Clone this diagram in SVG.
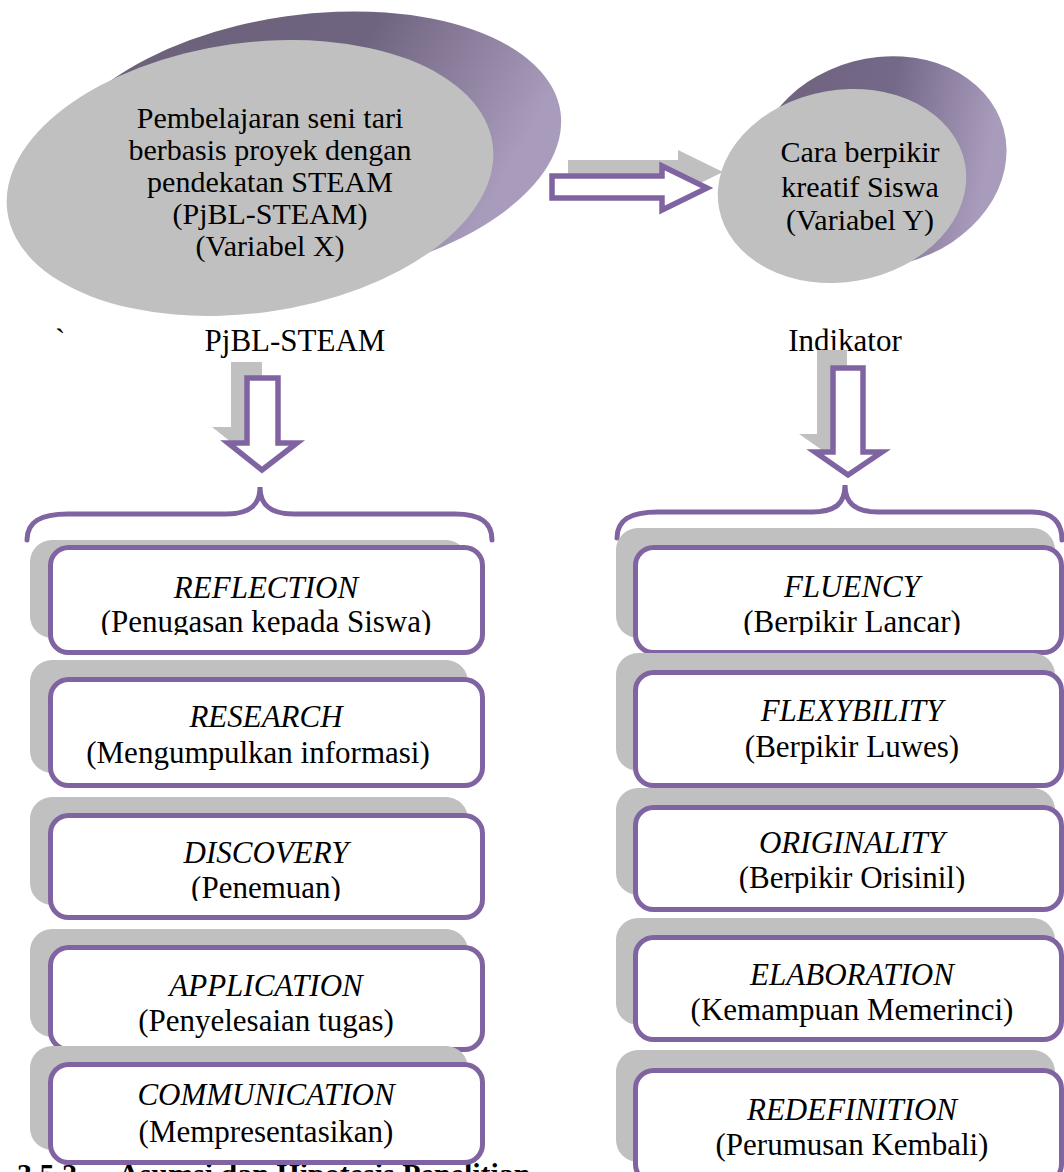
<svg xmlns="http://www.w3.org/2000/svg" width="1064" height="1172" viewBox="0 0 1064 1172">
<style>
text{font-family:"Liberation Serif","Times New Roman",serif;fill:#000}
.el{font-size:30px;text-anchor:middle}
.lb{font-size:31px}
.t{font-size:31px;text-anchor:middle}
.i{font-style:italic}
.h{font-size:30px;font-weight:bold}
.box{fill:#fff;stroke:#8064a2;stroke-width:5}
.sh{fill:#c0c0c0}
.par{fill:#fff;stroke:#8064a2;stroke-width:5.5;stroke-linejoin:miter}
.shar{fill:#c0c0c0}
.br{fill:none;stroke:#8064a2;stroke-width:5;stroke-linecap:round}
</style>
<defs>
<linearGradient id="pg" x1="0" y1="0" x2="1" y2="0.4">
<stop offset="0" stop-color="#6c6079"/>
<stop offset="0.6" stop-color="#6f6480"/>
<stop offset="1" stop-color="#a99bbb"/>
</linearGradient>
<linearGradient id="pg2" x1="0" y1="0" x2="1" y2="0.4">
<stop offset="0" stop-color="#6c6079"/>
<stop offset="0.6" stop-color="#75698a"/>
<stop offset="1" stop-color="#a99bbb"/>
</linearGradient>
<clipPath id="cL1"><rect x="0" y="540" width="520" height="95"/></clipPath>
<clipPath id="cR1"><rect x="600" y="540" width="464" height="95"/></clipPath>
<clipPath id="cL3"><rect x="0" y="810" width="520" height="91"/></clipPath>
<clipPath id="cR3"><rect x="600" y="800" width="464" height="93"/></clipPath>
<clipPath id="cR4"><rect x="600" y="930" width="464" height="104"/></clipPath>
</defs>

<text class="h" x="17" y="1184">3.5.2</text>
<text class="h" x="118" y="1184">Asumsi dan Hipotesis Penelitian</text>

<g id="node-x">
<ellipse cx="305" cy="148" rx="258" ry="133" transform="rotate(-8 305 148)" fill="url(#pg)"/>
<ellipse cx="250" cy="178" rx="245" ry="135" transform="rotate(-8 250 178)" fill="#c0c0c0"/>
<text class="el" x="270" y="128">Pembelajaran seni tari</text>
<text class="el" x="270" y="160">berbasis proyek dengan</text>
<text class="el" x="270" y="192">pendekatan STEAM</text>
<text class="el" x="270" y="224">(PjBL-STEAM)</text>
<text class="el" x="270" y="256">(Variabel X)</text>
</g>

<g id="node-y">
<ellipse cx="880" cy="162" rx="128" ry="104" transform="rotate(-15 880 162)" fill="url(#pg2)"/>
<ellipse cx="842" cy="186" rx="125" ry="96" transform="rotate(-10 842 186)" fill="#c0c0c0"/>
<text class="el" x="860" y="162">Cara berpikir</text>
<text class="el" x="860" y="197">kreatif Siswa</text>
<text class="el" x="860" y="230">(Variabel Y)</text>
</g>

<g id="labels">
<text class="lb" x="55" y="350">`</text>
<text class="lb" x="295" y="351" text-anchor="middle">PjBL-STEAM</text>
<text class="lb" x="845" y="351" text-anchor="middle">Indikator</text>
</g>

<g id="connectors">
<polygon class="shar" points="568,160 678,160 678,150 723,172 678,194 678,182 568,182"/>
<polygon class="par" points="552,176 662,176 662,166 707,188 662,210 662,198 552,198"/>
<polygon class="shar" points="231,362 262,362 262,427 281,427 246,454 212,427 231,427"/>
<polygon class="par" points="247,378 278,378 278,443 297,443 262,470 228,443 247,443"/>
<polygon class="shar" points="817,350 847,350 847,434 866,434 832,457 799,434 817,434"/>
<polygon class="par" points="833,368 863,368 863,452 882,452 848,475 815,452 833,452"/>
<path class="br" d="M27,540 C27,522 40,514 68,514 L226,514 C250,514 260,505 260,487 C260,505 270,514 294,514 L455,514 C480,514 492,522 492,540"/>
<path class="br" d="M617,538 C617,520 630,512 658,512 L812,512 C836,512 845,503 845,485 C845,503 855,512 878,512 L1032,512 C1052,512 1062,522 1062,540"/>
</g>

<g id="step-reflection">
<rect class="sh" x="30" y="540" width="438" height="98" rx="22"/>
<rect class="box" x="50.5" y="547.5" width="432" height="105" rx="18"/>
<text class="t i" x="266" y="598">REFLECTION</text>
<text class="t" x="266" y="632" clip-path="url(#cL1)">(Penugasan kepada Siswa)</text>
</g>
<g id="step-research">
<rect class="sh" x="30" y="660" width="438" height="113" rx="22"/>
<rect class="box" x="50.5" y="679.5" width="432" height="106" rx="18"/>
<text class="t i" x="266" y="727">RESEARCH</text>
<text class="t" x="258" y="763">(Mengumpulkan informasi)</text>
</g>
<g id="step-discovery">
<rect class="sh" x="30" y="797" width="438" height="108" rx="22"/>
<rect class="box" x="50.5" y="815.5" width="432" height="102" rx="18"/>
<text class="t i" x="266" y="863">DISCOVERY</text>
<text class="t" x="266" y="898" clip-path="url(#cL3)">(Penemuan)</text>
</g>
<g id="step-application">
<rect class="sh" x="30" y="929" width="438" height="108" rx="22"/>
<rect class="box" x="50.5" y="947.5" width="432" height="102" rx="18"/>
<text class="t i" x="266" y="996">APPLICATION</text>
<text class="t" x="266" y="1031">(Penyelesaian tugas)</text>
</g>
<g id="step-communication">
<rect class="sh" x="30" y="1046" width="438" height="104" rx="22"/>
<rect class="box" x="50.5" y="1064.5" width="432" height="98" rx="18"/>
<text class="t i" x="266" y="1105">COMMUNICATION</text>
<text class="t" x="266" y="1142">(Mempresentasikan)</text>
</g>

<g id="ind-fluency">
<rect class="sh" x="616" y="528" width="439" height="110" rx="22"/>
<rect class="box" x="635.5" y="547.5" width="426" height="105" rx="18"/>
<text class="t i" x="852" y="597">FLUENCY</text>
<text class="t" x="852" y="632" clip-path="url(#cR1)">(Berpikir Lancar)</text>
</g>
<g id="ind-flexybility">
<rect class="sh" x="616" y="653" width="439" height="118" rx="22"/>
<rect class="box" x="635.5" y="672.5" width="426" height="113" rx="18"/>
<text class="t i" x="852" y="721">FLEXYBILITY</text>
<text class="t" x="852" y="757">(Berpikir Luwes)</text>
</g>
<g id="ind-originality">
<rect class="sh" x="616" y="788" width="439" height="107" rx="22"/>
<rect class="box" x="635.5" y="807.5" width="426" height="102" rx="18"/>
<text class="t i" x="852" y="853">ORIGINALITY</text>
<text class="t" x="852" y="888" clip-path="url(#cR3)">(Berpikir Orisinil)</text>
</g>
<g id="ind-elaboration">
<rect class="sh" x="616" y="918" width="439" height="107" rx="22"/>
<rect class="box" x="635.5" y="937.5" width="426" height="102" rx="18"/>
<text class="t i" x="852" y="985">ELABORATION</text>
<text class="t" x="852" y="1020" clip-path="url(#cR4)">(Kemampuan Memerinci)</text>
</g>
<g id="ind-redefinition">
<rect class="sh" x="616" y="1050" width="439" height="112" rx="22"/>
<rect class="box" x="635.5" y="1070.5" width="426" height="112" rx="18"/>
<text class="t i" x="852" y="1120">REDEFINITION</text>
<text class="t" x="852" y="1155">(Perumusan Kembali)</text>
</g>
</svg>
